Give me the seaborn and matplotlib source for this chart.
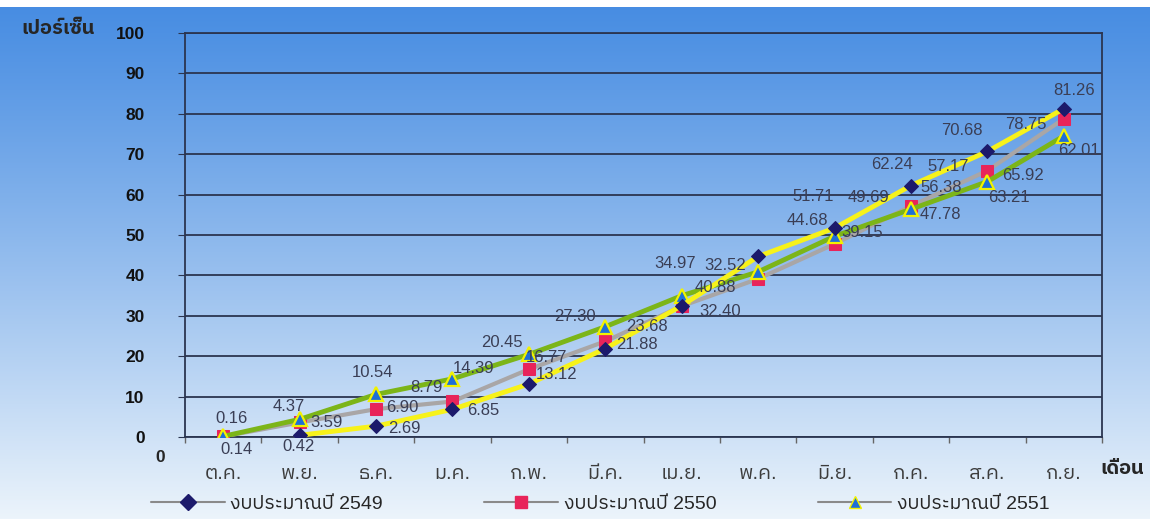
import numpy as np
import pandas as pd
import matplotlib
matplotlib.use('Agg')
import matplotlib.pyplot as plt
from matplotlib.lines import Line2D
from matplotlib import font_manager
import seaborn as sns

# data (cumulative % per month)
months = ['ต.ค.', 'พ.ย.', 'ธ.ค.', 'ม.ค.', 'ก.พ.', 'มี.ค.', 'เม.ย.', 'พ.ค.', 'มิ.ย.', 'ก.ค.', 'ส.ค.', 'ก.ย.']
y2549 = [np.nan, 0.42, 2.69, 6.85, 13.12, 21.88, 32.52, 44.68, 51.71, 62.24, 70.68, 81.26]
y2550 = [0.14, 3.59, 6.90, 8.79, 16.77, 23.68, 32.40, 39.15, 47.78, 57.17, 65.92, 78.75]
y2551 = [0.16, 4.37, 10.54, 14.39, 20.45, 27.30, 34.97, 40.88, 49.69, 56.38, 63.21, 74.5]
# value labels as printed on the chart
lab2549 = ['', '0.42', '2.69', '6.85', '13.12', '21.88', '32.52', '44.68', '51.71', '62.24', '70.68', '81.26']
lab2550 = ['0.14', '3.59', '6.90', '8.79', '16.77', '23.68', '32.40', '39.15', '47.78', '57.17', '65.92', '78.75']
lab2551 = ['0.16', '4.37', '10.54', '14.39', '20.45', '27.30', '34.97', '40.88', '49.69', '56.38', '63.21', '62.01']
series_names = ['งบประมาณปี 2549', 'งบประมาณปี 2550', 'งบประมาณปี 2551']

# label offsets in pixels (dx, dy with y down) - where the labels sit in the original
off2549 = [(0, 0), (-1, 11), (28, 2), (31, 1), (28, -9), (32, -4), (43, -40), (49, -36),
           (-21, -32), (-19, -21), (-25, -21), (10, -18)]
off2550 = [(13, 13), (27, 0), (26, -2), (-26, -14), (18, -12), (42, -15), (38, 5), (104, -46),
           (106, -29), (37, -40), (36, 5), (-38, 6)]
off2551 = [(8, -18), (-11, -13), (-4, -22), (21, -10), (-27, -12), (-30, -10), (-7, -32), (-43, 16),
           (34, -39), (30, -22), (22, 16), (15, 14)]

# pick a loopless Thai font that also has a bold face
fonts = font_manager.fontManager.ttflist
cands = ['Noto Sans Thai', 'IBM Plex Sans Thai', 'Prompt', 'Kanit', 'Bai Jamjuree', 'Anuphan', 'Sarabun']
thai = 'DejaVu Sans'
for c in cands:
    ws = [f.weight for f in fonts if f.name == c]
    ws = [w if isinstance(w, int) else 400 for w in ws]
    if ws and max(ws) >= 700:
        thai = c
        break

sns.set_style('white')
plt.rcParams['font.family'] = ['Liberation Sans', thai, 'DejaVu Sans']

W, H = 1150, 519
fig = plt.figure(figsize=(W / 100, H / 100), dpi=100)

# background gradient over the whole figure
top = np.array([70, 140, 226]) / 255
bot = np.array([236, 244, 251]) / 255
t = np.linspace(0, 1, H)[:, None] ** 1.1
grad = top * (1 - t) + bot * t
grad[:7] = 1.0
bg = fig.add_axes([0, 0, 1, 1], zorder=-10)
bg.imshow(np.repeat(grad[:, None, :], 4, axis=1), aspect='auto', extent=[0, 1, 0, 1])
bg.axis('off')

ax = fig.add_axes([185 / W, 1 - 437 / H, (1102 - 185) / W, (437 - 33) / H])
ax.set_facecolor('none')
x = np.arange(len(months))
dark = '#2b3550'

df = pd.DataFrame({'x': x, 'y2549': y2549, 'y2550': y2550, 'y2551': y2551})

sns.lineplot(data=df, x='x', y='y2550', ax=ax, sort=False, color='#a9a6a6', lw=3,
             marker='s', ms=8, markerfacecolor='#e8245a', markeredgecolor='#e8245a', zorder=3)
sns.lineplot(data=df, x='x', y='y2551', ax=ax, sort=False, color='#7cb518', lw=3.5,
             marker='^', ms=10, markerfacecolor='#1f6fd6', markeredgecolor='#f2f200',
             markeredgewidth=1.6, zorder=4)
sns.lineplot(data=df, x='x', y='y2549', ax=ax, sort=False, color='#f7f21a', lw=3.5,
             marker='D', ms=7.5, markerfacecolor='#1c1a6b', markeredgecolor='#1c1a6b', zorder=5)

for vals, labs, offs in [(y2549, lab2549, off2549), (y2550, lab2550, off2550), (y2551, lab2551, off2551)]:
    for i, (v, s, o) in enumerate(zip(vals, labs, offs)):
        if s == '' or np.isnan(v):
            continue
        ax.annotate(s, (i, v), xytext=(o[0], -o[1]), textcoords='offset pixels',
                    ha='center', va='center', fontsize=12, color='#3a3e55', zorder=6)

ax.set_xlim(-0.5, len(months) - 0.5)
ax.set_ylim(0, 100)
ax.set_yticks(range(0, 101, 10))
ax.yaxis.grid(True, color=dark, lw=1.3)
ax.xaxis.grid(False)
for side in ['left', 'right', 'top', 'bottom']:
    ax.spines[side].set_visible(True)
    ax.spines[side].set_color(dark)
    ax.spines[side].set_linewidth(1.3)
ax.tick_params(axis='y', left=True, length=5, color=dark, pad=24, labelsize=12.5)
for lbl in ax.get_yticklabels():
    lbl.set_fontweight('bold')
    lbl.set_color('#111111')
ax.set_xticks(x)
ax.set_xticklabels(months, fontsize=14.5, color='#3c3c3c')
ax.tick_params(axis='x', which='major', bottom=False, pad=16)
ax.set_xticks(np.arange(-0.5, len(months)), minor=True)
ax.tick_params(axis='x', which='minor', bottom=True, length=4, color='#666666', width=1)
ax.set_xlabel('')
ax.set_ylabel('')

fig.text(58 / W, 1 - 28 / H, 'เปอร์เซ็น', ha='center', va='center', fontsize=14.5, fontweight='bold')
fig.text(160 / W, 1 - 457 / H, '0', ha='center', va='center', fontsize=12.5, fontweight='bold')
fig.text(1122 / W, 1 - 468 / H, 'เดือน', ha='center', va='center', fontsize=14.5, fontweight='bold')

handles = [
    Line2D([], [], color='#8a8a8a', lw=1.5, marker='D', ms=8, markerfacecolor='#1c1a6b', markeredgecolor='#1c1a6b'),
    Line2D([], [], color='#8a8a8a', lw=1.5, marker='s', ms=9, markerfacecolor='#e8245a', markeredgecolor='#e8245a'),
    Line2D([], [], color='#8a8a8a', lw=1.5, marker='^', ms=8, markerfacecolor='#1f6fd6', markeredgecolor='#f2f200'),
]
fig.legend(handles, series_names, loc='center', bbox_to_anchor=(0.522, 1 - 504 / H), ncol=3,
           frameon=False, fontsize=14, handlelength=3.8, columnspacing=5.2, handletextpad=0.3)

fig.savefig('out.png', dpi=100)
